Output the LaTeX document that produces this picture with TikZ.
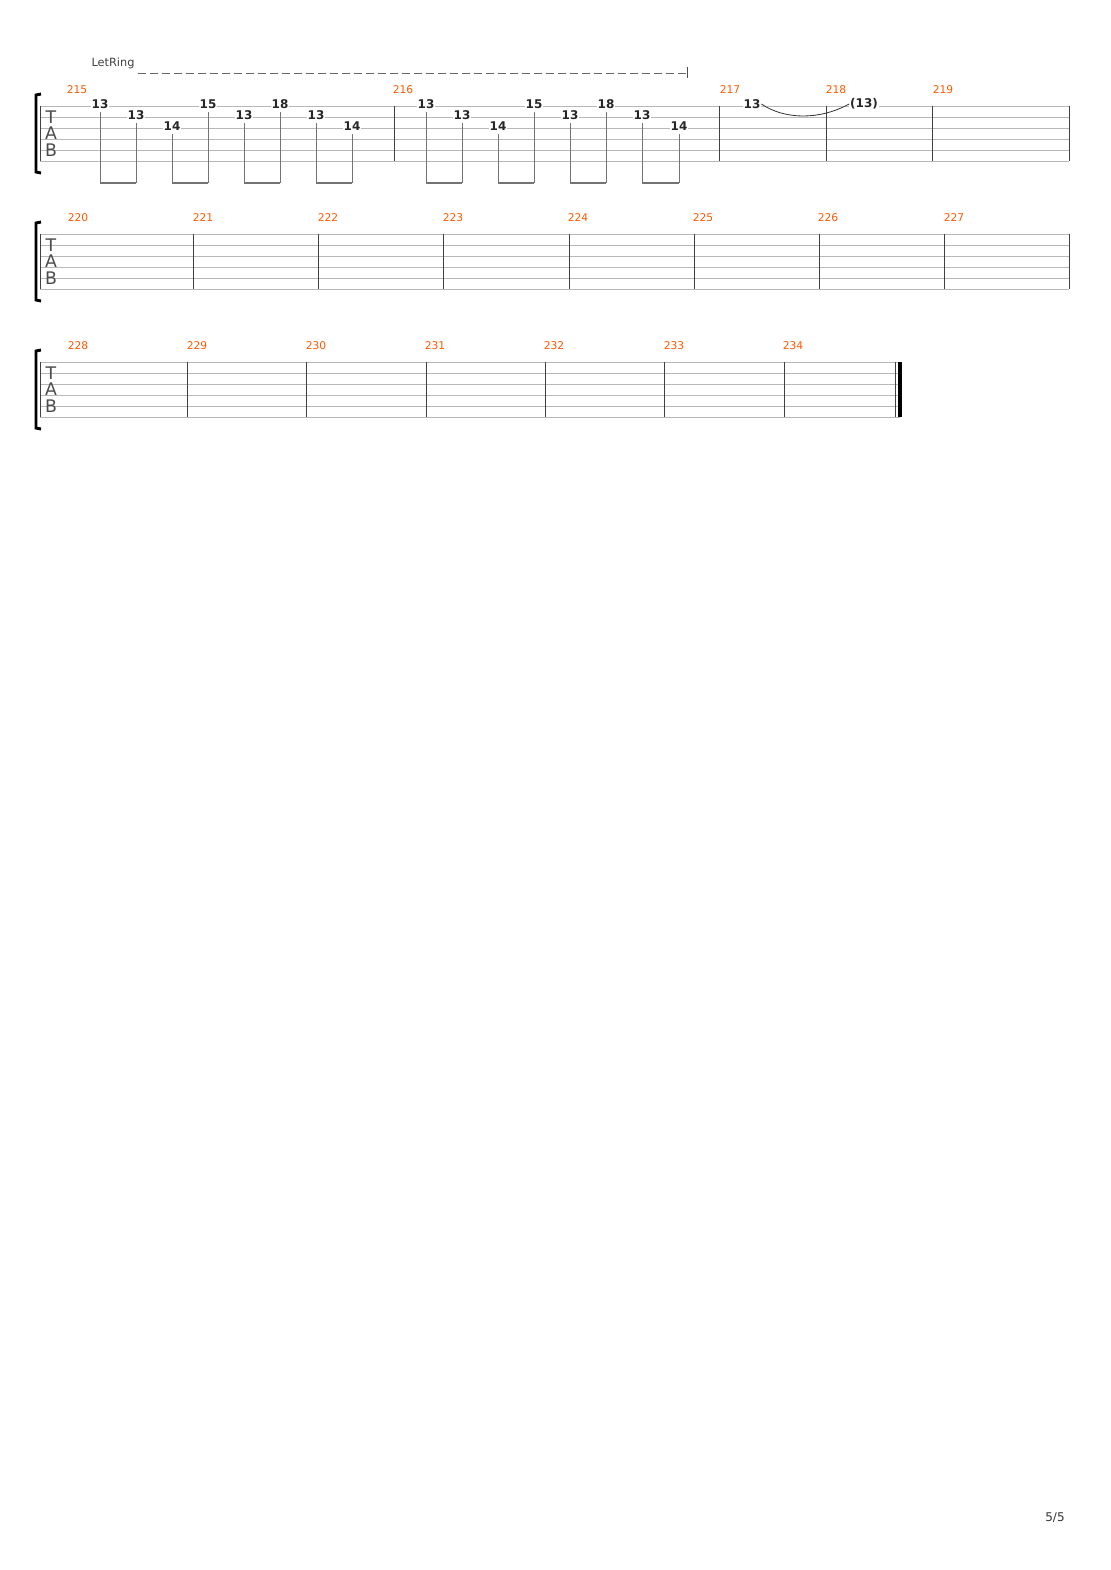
\documentclass[tikz,border=0pt]{standalone}
\usepackage{fontspec}
\setmainfont{DejaVu Sans}
\begin{document}
\begin{tikzpicture}[x=0.75pt,y=-0.75pt,
  staff/.style={draw=black!28,line width=0.6pt},
  bar/.style={draw=black!75,line width=0.7pt},
  num/.style={text=orange!70!red,font=\fontsize{8}{9}\selectfont,anchor=center,inner sep=0pt},
  fret/.style={font=\bfseries\fontsize{9}{10}\selectfont,text=black!85,fill=white,inner sep=0.6pt,anchor=center},
  tab/.style={font=\fontsize{13}{13}\selectfont,text=black!70,inner sep=0pt,anchor=center},
  stem/.style={draw=black!55,line width=0.7pt},
  beam/.style={draw=black!55,line width=2.2pt}]
\useasboundingbox (0,0) rectangle (1110,1570);
\fill[white] (0,0) rectangle (1110,1570);
% staves
\foreach \y/\xe in {106/1069,234/1069,362/900}{
  \foreach \k in {0,...,5}{\draw[staff] (40,\y+11*\k) -- (\xe,\y+11*\k);}
  \draw[bar] (40,\y) -- (40,\y+55);
  \node[tab] at (51,\y+11) {T};
  \node[tab] at (51,\y+27) {A};
  \node[tab] at (51,\y+44) {B};
  \draw[line width=2.2pt] (41,\y-12) -- (36,\y-11) -- (36,\y+66) -- (41,\y+67);
}
% system 1 barlines and numbers
\foreach \x in {394,719,826,932,1069}{\draw[bar] (\x,106) -- (\x,161);}
\foreach \x/\n in {77/215,403/216,730/217,836/218,943/219}{\node[num] at (\x,90) {\n};}
% system 2
\foreach \x in {193,318,443,569,694,819,944,1069}{\draw[bar] (\x,234) -- (\x,289);}
\foreach \x/\n in {78/220,203/221,328/222,453/223,578/224,703/225,828/226,954/227}{\node[num] at (\x,218) {\n};}
% system 3
\foreach \x in {187,306,426,545,664,784,895}{\draw[bar] (\x,362) -- (\x,417);}
\draw[line width=3pt] (900,362) -- (900,417);
\foreach \x/\n in {78/228,197/229,316/230,435/231,554/232,674/233,793/234}{\node[num] at (\x,346) {\n};}
% notes system 1
\foreach \x/\s/\f in {100/0/13,136/1/13,172/2/14,208/0/15,244/1/13,280/0/18,316/1/13,352/2/14,
                       426/0/13,462/1/13,498/2/14,534/0/15,570/1/13,606/0/18,642/1/13,679/2/14}{
  \draw[stem] (\x,106+11*\s+6) -- (\x,183);
  \node[fret] at (\x,104+11*\s) {\f};
}
\foreach \a/\b in {100/136,172/208,244/280,316/352,426/462,498/534,570/606,642/679}{
  \draw[beam] (\a,183) -- (\b,183);
}
\node[fret] (t1) at (752,104) {13};
\node[fret] (t2) at (864,104) {(13)};
\draw[black!80,line width=0.6pt] (t1.east) .. controls (785,120) and (820,120) .. (t2.west);
% let ring
\node[font=\fontsize{8.5}{9}\selectfont,text=black!75,anchor=center] at (113,63) {LetRing};
\draw[black!60,dashed,line width=0.7pt,dash pattern=on 6pt off 3pt] (138,73) -- (686,73);
\draw[black!70,line width=0.7pt] (687,67) -- (687,78);
\node[font=\fontsize{9}{10}\selectfont,text=black!80] at (1055,1518) {5/5};
\end{tikzpicture}
\end{document}
